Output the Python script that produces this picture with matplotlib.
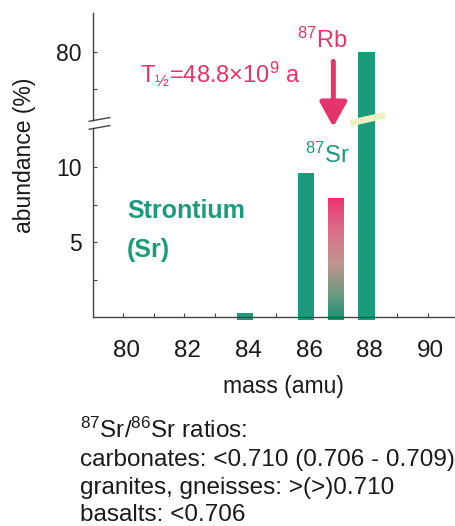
"""Strontium isotope abundances with the 87Rb -> 87Sr decay note."""

import numpy as np
import matplotlib
matplotlib.use("Agg")
import matplotlib.pyplot as plt
from matplotlib.colors import LinearSegmentedColormap
from matplotlib.transforms import ScaledTranslation

plt.rcParams["font.family"] = ["Liberation Sans", "DejaVu Sans"]
plt.rcParams["mathtext.fontset"] = "custom"
plt.rcParams["mathtext.rm"] = "Liberation Sans"
plt.rcParams["mathtext.it"] = "Liberation Sans:italic"
plt.rcParams["mathtext.bf"] = "Liberation Sans:bold"

# data
masses = [84, 86, 87, 88]
abundance = [0.3, 9.6, 8.0, 80.0]
xticks_major = [80, 82, 84, 86, 88, 90]
xticks_minor = [81, 83, 85, 87, 89]
yticks_major = [5, 10, 80]
yticks_minor = [2.5, 7.5, 70]
ratio_lines = [
    "$^{87}$Sr/$^{86}$Sr ratios:",
    "carbonates: <0.710 (0.706 - 0.709)",
    "granites, gneisses: >(>)0.710",
    "basalts: <0.706",
]

GREEN = "#1b9a7c"
PINK = "#e5336b"
AXIS = "#444444"
TEXT = "#1a1a1a"

# broken y axis: lower part 0-12.6, upper part 61.5-90.5
LOW_TOP, HIGH_BOT = 12.6, 61.5
KNOT_VAL = [-100, LOW_TOP, HIGH_BOT, 200]
KNOT_PX = [-1500, 189, 197, 197 + (200 - HIGH_BOT) * 3.7]


def forward(y):
    return np.interp(y, KNOT_VAL, KNOT_PX)


def inverse(p):
    return np.interp(p, KNOT_PX, KNOT_VAL)


fig = plt.figure(figsize=(4.55, 5.26), dpi=100)
ax = fig.add_axes([93 / 455, 1 - 317 / 526, 362 / 455, 304 / 526])
ax.set_yscale("function", functions=(forward, inverse))
ax.set_xlim(79, 90.9)
ax.set_ylim(0, 90.5)

# bars (87Sr gets a pink -> green gradient)
width = 0.55
base = -0.2
for m, a in zip(masses, abundance):
    if m == 87:
        bar = ax.bar(m, a - base, bottom=base, width=width, color="none",
                     linewidth=0, clip_on=False)[0]
        cmap = LinearSegmentedColormap.from_list(
            "decay", [(0, "#1c9074"), (0.2, "#6a9a80"), (0.45, "#c0968e"),
                      (0.72, "#dc6f8a"), (1, "#e8336c")])
        grad = np.linspace(1, 0, 256).reshape(-1, 1)
        img = ax.imshow(grad, cmap=cmap, aspect="auto",
                        extent=[m - width / 2, m + width / 2, base, a],
                        zorder=2, clip_on=False)
        img.set_clip_path(bar)
    else:
        ax.bar(m, a - base, bottom=base, width=width, color=GREEN,
               linewidth=0, clip_on=False, zorder=2)

# pale band across the tall bar where the axis breaks
ax.plot([87.45, 88.6], [43.2, 62.85], color="#eef0c2", lw=4.8,
        solid_capstyle="butt", zorder=3)

# axes styling
for side in ["top", "right", "left"]:
    ax.spines[side].set_visible(False)
ax.spines["bottom"].set_color(AXIS)
ax.spines["bottom"].set_linewidth(1.0)
ytr = ax.get_yaxis_transform()
ax.plot([0, 0], [0, LOW_TOP], color=AXIS, lw=1.0, transform=ytr, clip_on=False)
ax.plot([0, 0], [HIGH_BOT, 90.5], color=AXIS, lw=1.0, transform=ytr, clip_on=False)
brk = [(-5, -0.9), (17, 3.1)]
ax.plot([0, 0], [LOW_TOP, HIGH_BOT], linestyle="none", marker=brk,
        markersize=24.5, mec=AXIS, mew=1.0, transform=ytr, clip_on=False)

ax.set_xticks(xticks_major)
ax.set_xticks(xticks_minor, minor=True)
ax.set_yticks(yticks_major)
ax.set_yticks(yticks_minor, minor=True)
ax.tick_params(axis="x", which="both", direction="in", length=3, width=0.8,
               color=AXIS, pad=16.5, labelsize=17.5, labelcolor=TEXT)
ax.tick_params(axis="y", which="both", direction="in", length=3, width=0.8,
               color=AXIS, pad=8, labelsize=16.5, labelcolor=TEXT)
# the x labels sit a little right of their ticks in the original
shift = ScaledTranslation(3 / 100, 0, fig.dpi_scale_trans)
for lab in ax.get_xticklabels():
    lab.set_transform(lab.get_transform() + shift)

ax.set_xlabel("mass (amu)", fontsize=16.5, color=TEXT, va="baseline")
ax.xaxis.set_label_coords(0.525, -0.25)
ax.set_ylabel("abundance (%)", fontsize=16.5, color=TEXT, va="center")
ax.yaxis.set_label_coords(-0.188, 0.533)

# annotations
ax.text(80.12, 6.6, "Strontium", color=GREEN, fontsize=18, fontweight="bold",
        va="baseline")
ax.text(80.12, 4.0, "(Sr)", color=GREEN, fontsize=18, fontweight="bold",
        va="baseline")
ax.text(85.97, 10.27, "$^{87}$Sr", color=GREEN, fontsize=17, va="baseline")
ax.text(85.71, 80.96, "$^{87}$Rb", color=PINK, fontsize=17, va="baseline")
ax.text(80.55, 71.5, "T$_{½}$=48.8×10$^{9}$ a", color=PINK, fontsize=17,
        va="baseline")
ax.annotate("", xy=(86.9, 20), xytext=(86.9, 77.4),
            arrowprops=dict(arrowstyle="-|>,head_length=1.0,head_width=0.55",
                            mutation_scale=15, lw=3.6, color=PINK,
                            shrinkA=0, shrinkB=0))

# ratio notes under the chart
for i, line in enumerate(ratio_lines):
    fig.text(80 / 455, 1 - (438 + 27.8 * i) / 526, line, fontsize=17.5,
             color=TEXT, va="baseline")

fig.savefig("out.png", dpi=100)
